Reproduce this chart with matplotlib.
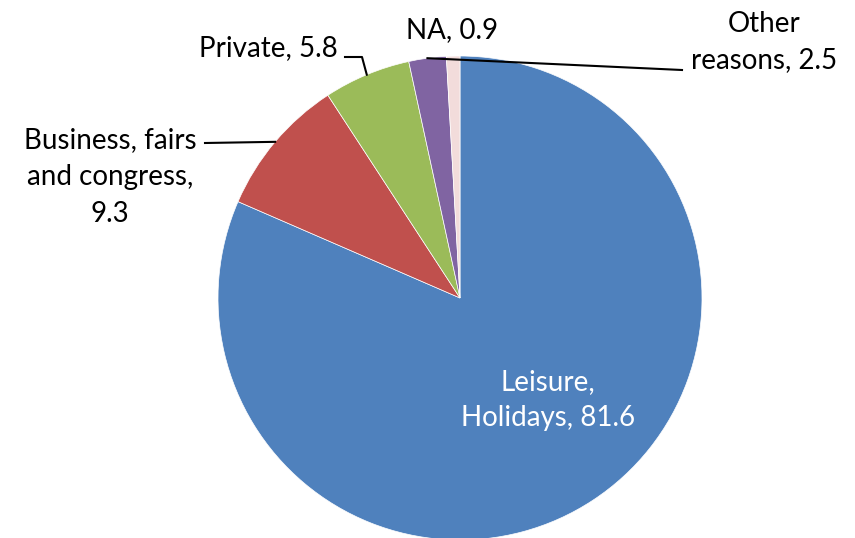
import matplotlib
matplotlib.use("Agg")
import matplotlib.pyplot as plt
import numpy as np

# Purpose of trip, share in %
labels = ["Leisure,\nHolidays, 81.6", "Business, fairs\nand congress,\n9.3",
          "Private, 5.8", "Other\nreasons, 2.5", "NA, 0.9"]
values = [81.6, 9.3, 5.8, 2.5, 0.9]
colors = ["#4F81BD", "#C0504D", "#9BBB59", "#8064A2", "#F2DCDB"]

plt.rcParams['font.family'] = ['Lato', 'DejaVu Sans']

fig = plt.figure(figsize=(8.55, 5.38), dpi=100)
ax = fig.add_axes([0, 0, 1, 1])

cx, cy, r = 460, 240, 242
wedges, _ = ax.pie(values, colors=colors, startangle=90, counterclock=False,
                   center=(cx, cy), radius=r, frame=True,
                   wedgeprops=dict(edgecolor='white', linewidth=0.5))
ax.set_xlim(0, 855)
ax.set_ylim(0, 538)
ax.set_aspect('equal')
ax.axis('off')


def edge_point(w):
    a = np.deg2rad((w.theta1 + w.theta2) / 2)
    return cx + r * np.cos(a), cy + r * np.sin(a)


fs = 20
ls = 1.5
# Leisure inside
ax.text(548, 538 - 400, labels[0], ha='center', va='center', fontsize=fs,
        color='white', linespacing=ls)
# Business
ax.text(110, 538 - 177, labels[1], ha='center', va='center', fontsize=fs,
        linespacing=ls)
bx, by = edge_point(wedges[1])
ax.plot([205, bx], [538 - 143, by], color='black', lw=1.5)
# Private
ax.text(268, 538 - 48, labels[2], ha='center', va='center', fontsize=fs)
px, py = edge_point(wedges[2])
ax.plot([345, 362, px], [538 - 57, 538 - 57, py], color='black', lw=1.5)
# Other reasons
ax.text(764, 538 - 42, labels[3], ha='center', va='center', fontsize=fs,
        linespacing=ls)
ox, oy = edge_point(wedges[3])
ax.plot([682, ox], [538 - 70, oy], color='black', lw=1.5)
# NA
ax.text(452, 538 - 30, labels[4], ha='center', va='center', fontsize=fs)

fig.savefig("out.png", dpi=100, facecolor='white')
